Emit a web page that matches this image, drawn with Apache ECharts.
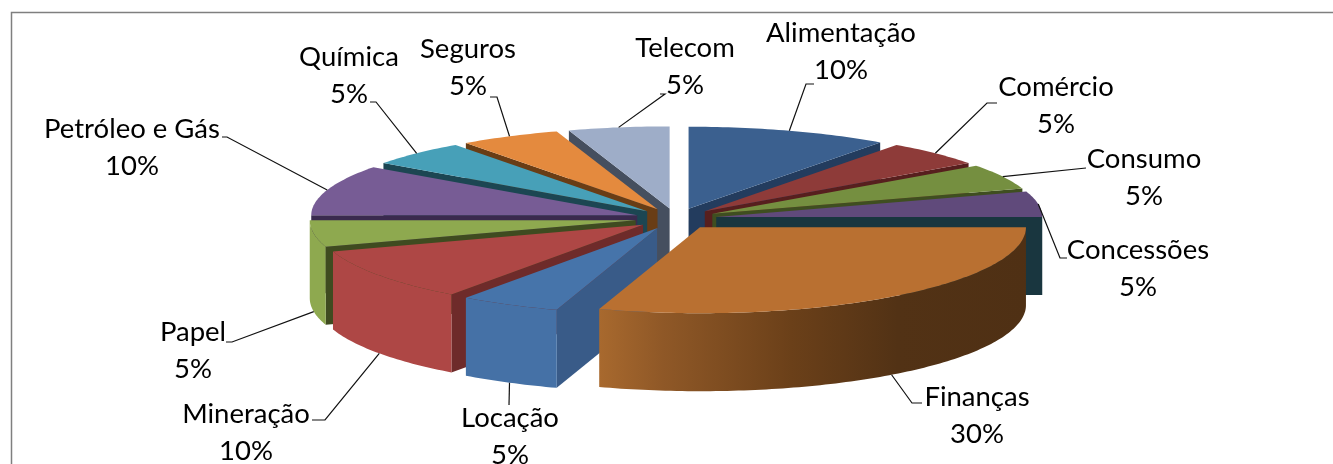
<!DOCTYPE html>
<html>
<head>
<meta charset="utf-8">
<style>
    html, body { margin: 0; padding: 0; background: #fff; }
    #container { width: 1333px; height: 464px; }
</style>
<script src="https://cdn.jsdelivr.net/npm/echarts@6/dist/echarts.min.js"></script>
</head>
<body>
<div id="container"></div>
<script>
// dados
var categories = ['Alimentação', 'Comércio', 'Consumo', 'Concessões', 'Finanças', 'Locação', 'Mineração', 'Papel', 'Petróleo e Gás', 'Química', 'Seguros', 'Telecom'];
var values = [10, 5, 5, 5, 30, 5, 10, 5, 10, 5, 5, 5];

// cores: topo, lateral cortada
var topColors = ['#3b608f', '#8e3b39', '#758f40', '#604a7b', '#b97031', '#4674aa', '#ae4745', '#8ea94f', '#775c95', '#47a0b8', '#e48a3e', '#9eadc8'];
var faceColors = ['#233c5e', '#571f1e', '#3f4e20', '#19363f', '#4f3014', '#395b88', '#6e2b2a', '#3f4b20', '#3a2a4e', '#1c4652', '#693d15', '#454f5f'];
var wallColors = ['#233c5e', '#571f1e', '#3f4e20', '#19363f', '#4f3014', '#4571a6', '#ae4745', '#8ea94f', '#5c4675', '#1c4652', '#693d15', '#454f5f'];

// posicao dos rotulos e cotovelos das linhas
var labelPos = [[841, 52], [1056, 106], [1144, 178], [1138, 269], [977, 416], [510, 437], [246, 433], [193, 351], [132, 148], [349, 76], [468, 68], [685, 67]];
var leaderPts = [
    [[806, 84], [814, 84]],
    [[987, 103], [997, 103]],
    [[1086, 168]],
    [[1060, 258], [1067, 258]],
    [[912, 403], [922, 403]],
    [[509, 405]],
    [[325, 420], [312, 420]],
    [[232, 342], [226, 342]],
    [[227, 137], [222, 137]],
    [[376, 102], [370, 102]],
    [[497, 97], [490, 97]],
    [[665, 94], [660, 94]]
];

// a metade da frente fica um pouco maior por causa da perspectiva
var cx = 676, cy = 218.5, rx = 326, ryBack = 82, ryFront = 86, depth = 78, explode = 0.125;
var total = values.reduce(function (a, b) { return a + b; }, 0);

function rad(d) { return d * Math.PI / 180; }

// ponto da elipse para um angulo (horario, a partir do topo)
function pt(ox, oy, deg, h) {
    var c = Math.cos(rad(deg));
    return [ox + rx * Math.sin(rad(deg)), oy - (c > 0 ? ryBack : ryFront) * c + (h || 0)];
}

// arco de a ate b, sempre incluindo as pontas
function arc(ox, oy, a, b, h) {
    var pts = [], n = Math.ceil(Math.abs(b - a));
    for (var s = 0; s <= n; s++) pts.push(pt(ox, oy, a + (b - a) * s / n, h));
    return pts;
}

function renderSlice(params, api) {
    var i = params.dataIndex;
    var before = 0;
    for (var k = 0; k < i; k++) before += values[k];
    var a = before / total * 360;
    var b = (before + api.value(0)) / total * 360;
    var mid = (a + b) / 2;
    var offset = pt(0, 0, mid);
    var ox = cx + explode * offset[0];
    var oy = cy + explode * offset[1];
    // desenha de tras para frente: vale a ponta mais proxima da frente
    var near = (a <= 180 && b >= 180) ? 2 : Math.max(1 - Math.cos(rad(a)), 1 - Math.cos(rad(b)));
    var order = Math.round(near * 100) * 10;
    var children = [];

    // face cortada visivel
    function face(deg) {
        children.push({
            type: 'polygon',
            z2: order,
            shape: { points: [[ox, oy], pt(ox, oy, deg), pt(ox, oy, deg, depth), [ox, oy + depth]] },
            style: { fill: faceColors[i] }
        });
    }
    if (a > 180) face(a);
    if (b > 0 && b <= 90) face(b);

    // parede externa (metade da frente)
    var wa = Math.max(a, 90), wb = Math.min(b, 270);
    if (wb > wa) {
        var wall = arc(ox, oy, wa, wb, 0).concat(arc(ox, oy, wb, wa, depth));
        var wallFill = wallColors[i];
        if (i === 4) {
            wallFill = new echarts.graphic.LinearGradient(1, 0, 0, 0, [
                { offset: 0, color: '#4f3014' },
                { offset: 0.3, color: '#523215' },
                { offset: 0.55, color: '#6b4019' },
                { offset: 0.85, color: '#8f5827' },
                { offset: 1, color: '#a8692e' }
            ]);
        }
        children.push({ type: 'polygon', z2: order + 1, shape: { points: wall }, style: { fill: wallFill } });
    }

    // topo
    children.push({
        type: 'polygon',
        z2: order + 2,
        shape: { points: [[ox, oy]].concat(arc(ox, oy, a, b, 0)) },
        style: { fill: topColors[i] }
    });

    // linha de chamada
    var front = mid > 90 && mid < 270;
    var line = [pt(ox, oy, mid, front ? depth : 0)].concat(leaderPts[i]);
    children.push({
        type: 'polyline',
        z2: 5000,
        shape: { points: line },
        style: { fill: null, stroke: '#111', lineWidth: 1.2 }
    });

    // rotulo
    children.push({
        type: 'text',
        z2: 5001,
        style: {
            x: labelPos[i][0],
            y: labelPos[i][1],
            text: categories[i] + '\n' + Math.round(api.value(0) / total * 100) + '%',
            fontFamily: 'Lato',
            fontSize: 27.5,
            lineHeight: 37,
            align: 'center',
            verticalAlign: 'middle',
            fill: '#000'
        }
    });
    return { type: 'group', children: children };
}

var myChart = echarts.init(document.getElementById('container'));
var option = {
    animation: false,
    backgroundColor: '#fff',
    graphic: [{
        type: 'polyline',
        silent: true,
        shape: { points: [[11.5, 464], [11.5, 12.5], [1333, 12.5]] },
        style: { fill: null, stroke: '#7f7f7f', lineWidth: 1.5 }
    }],
    series: [{
        type: 'custom',
        coordinateSystem: 'none',
        renderItem: renderSlice,
        data: values.map(function (v) { return [v]; })
    }]
};
myChart.setOption(option);
</script>
</body>
</html>
